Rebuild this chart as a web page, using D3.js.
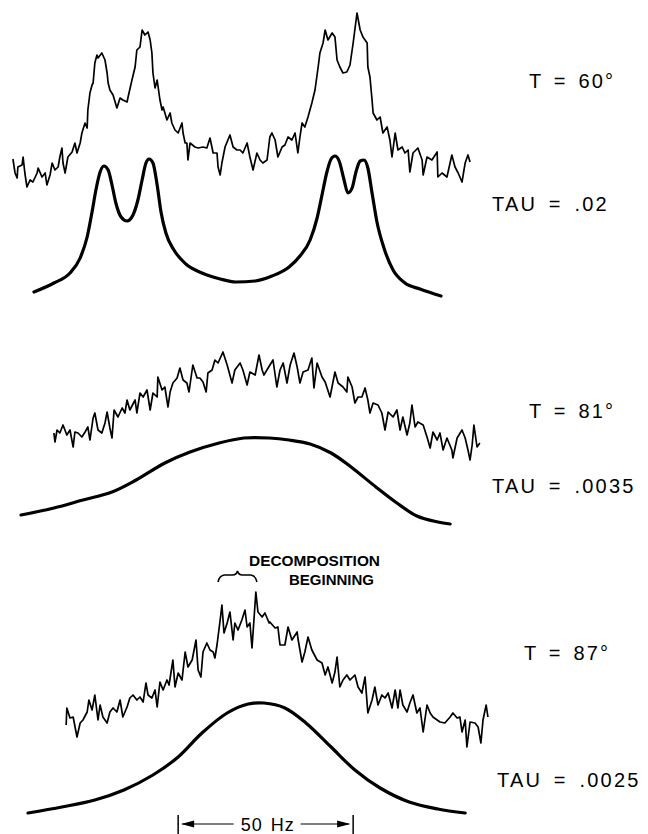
<!DOCTYPE html>
<html>
<head>
<meta charset="utf-8">
<script src="https://cdn.jsdelivr.net/npm/d3@7"></script>
<style>
  body { margin: 0; background: #fff; }
  text { font-family: "Liberation Sans", Arial, sans-serif; fill: #000; white-space: pre; }
</style>
</head>
<body>
<div id="chart"></div>
<script>
// frequency in Hz, intensity in arbitrary units
var obs60 = [[3.7,141],[4.3,127],[4.9,122],[5.1,133],[6.3,135],[6.6,143],[7.1,127],[7.7,113],[8.6,120],[9.4,118],[10.6,127],[10.9,132],[12.0,123],[12.9,127],[13.4,115],[14.3,125],[14.9,137],[15.7,130],[16.6,133],[17.1,143],[17.7,152],[18.0,137],[18.6,127],[19.4,143],[20.6,148],[21.4,157],[22.0,147],[22.9,157],[23.4,167],[24.3,177],[24.9,172],[25.1,190],[25.7,207],[26.3,215],[26.6,217],[27.1,237],[27.7,245],[28.0,242],[29.1,247],[30.0,240],[30.6,227],[30.9,217],[31.4,210],[32.3,205],[33.4,192],[34.3,202],[35.1,200],[36.3,198],[36.6,203],[37.7,220],[38.6,233],[39.1,250],[40.0,253],[40.6,270],[41.4,265],[42.3,268],[42.9,260],[43.4,247],[43.7,227],[44.3,212],[44.9,220],[45.7,200],[46.3,190],[46.6,193],[47.7,180],[48.6,187],[49.1,177],[50.0,170],[50.9,167],[52.0,177],[52.3,167],[52.9,157],[53.4,157],[53.7,140],[54.3,157],[55.7,153],[56.6,152],[58.0,153],[59.1,152],[60.0,162],[60.9,147],[62.0,147],[62.3,133],[62.9,125],[63.4,137],[64.3,153],[65.7,165],[66.6,153],[67.7,150],[68.6,150],[69.4,147],[70.6,157],[71.4,143],[72.3,130],[73.4,147],[74.3,140],[75.1,137],[76.3,140],[77.1,163],[77.7,167],[78.6,160],[79.4,143],[80.6,153],[81.4,155],[82.3,163],[83.4,160],[84.3,167],[85.1,147],[85.7,163],[86.3,177],[87.1,173],[88.0,183],[89.1,197],[90.0,210],[90.9,233],[91.4,247],[92.3,257],[92.9,270],[93.7,260],[94.9,267],[95.7,263],[96.3,240],[97.1,233],[98.0,227],[99.1,228],[100.0,235],[100.9,257],[102.0,287],[102.9,270],[103.7,263],[104.9,257],[105.1,233],[105.7,223],[106.3,200],[106.6,187],[107.7,180],[108.6,183],[109.4,167],[110.6,173],[111.4,160],[112.0,143],[112.9,167],[113.7,150],[114.9,153],[115.7,147],[116.6,150],[117.1,128],[118.0,147],[119.4,152],[120.6,140],[120.9,125],[122.0,143],[123.4,140],[124.9,148],[125.1,123],[126.3,127],[127.7,123],[129.1,145],[130.0,133],[130.9,127],[132.0,118],[132.9,137],[133.7,145],[134.3,138]];

var calc60 = [[9.7,8],[15.4,17],[20.0,27],[22.9,42],[24.9,63],[26.3,88],[27.4,110],[28.6,128],[29.7,134],[30.9,130],[32.0,115],[33.1,97],[34.6,83],[36.3,79],[38.0,85],[39.4,100],[40.6,120],[41.7,137],[42.6,141],[43.7,137],[44.9,115],[46.0,88],[47.4,67],[49.7,50],[53.1,36],[57.7,27],[62.9,21],[67.4,18],[72.9,19],[77.7,24],[82.6,33],[85.7,44],[88.6,60],[90.6,82],[92.0,105],[93.4,128],[94.6,141],[95.7,144],[96.9,139],[98.3,120],[99.4,107],[100.6,112],[101.7,128],[102.9,139],[104.0,140],[105.1,132],[106.3,107],[107.7,78],[109.7,52],[112.3,30],[115.7,17],[120.0,11],[126.0,4]];

var obs81 = [[15.4,107],[15.7,98],[16.3,110],[17.1,107],[18.0,115],[19.1,105],[20.0,110],[20.9,93],[21.4,108],[22.3,107],[23.4,103],[24.3,108],[25.1,113],[25.7,100],[26.6,122],[27.1,127],[28.0,110],[29.1,107],[30.0,117],[30.6,128],[31.4,112],[32.0,102],[32.6,130],[33.7,123],[34.9,132],[35.7,127],[36.3,140],[37.1,130],[38.6,140],[39.1,127],[40.0,147],[40.9,143],[42.0,150],[42.9,130],[43.7,147],[44.9,143],[45.1,163],[46.3,150],[47.1,153],[48.0,133],[48.6,148],[49.4,157],[50.6,162],[51.4,172],[52.3,160],[53.4,157],[54.0,148],[55.1,175],[56.3,162],[57.1,162],[58.0,158],[58.9,148],[59.4,167],[60.6,170],[61.4,180],[62.3,177],[63.7,188],[64.9,175],[66.3,157],[67.1,170],[68.6,177],[69.4,170],[70.6,155],[71.4,168],[72.9,165],[74.0,185],[74.9,170],[75.4,165],[76.6,172],[78.0,180],[79.1,153],[80.0,170],[80.9,177],[82.0,157],[82.9,175],[84.0,187],[84.9,173],[85.7,157],[86.6,168],[88.0,170],[89.1,182],[89.7,152],[90.6,177],[92.0,163],[92.9,158],[94.3,143],[95.7,168],[96.6,157],[98.0,153],[99.1,148],[99.4,163],[100.6,153],[101.4,137],[102.3,143],[103.4,143],[104.3,152],[105.1,140],[105.7,127],[106.6,137],[108.0,135],[109.1,127],[110.0,110],[110.9,128],[112.3,123],[113.4,130],[114.3,110],[115.1,123],[116.3,105],[117.1,117],[117.7,135],[118.6,113],[119.4,118],[120.9,115],[122.0,103],[122.9,92],[123.7,108],[124.9,100],[125.7,107],[126.6,90],[127.7,102],[129.1,90],[129.4,82],[130.6,102],[132.0,110],[132.9,102],[133.7,90],[134.3,80],[134.9,95],[135.4,115],[136.3,93],[137.1,97]];

var calc81 = [[6.0,25],[15.4,32],[23.7,40],[32.0,48],[38.9,60],[47.1,77],[54.3,88],[62.6,97],[69.7,102],[76.9,102],[82.6,100],[88.6,96],[94.6,87],[100.3,73],[107.4,53],[113.4,37],[119.1,24],[125.1,18],[128.6,16]];

var obs87 = [[18.9,109],[19.1,126],[20.0,116],[20.9,117],[22.0,97],[22.9,111],[23.7,114],[24.9,122],[25.4,134],[26.3,124],[27.1,139],[28.0,114],[28.6,129],[29.4,117],[30.6,111],[31.4,122],[32.3,126],[33.4,122],[34.3,134],[35.1,117],[36.3,127],[37.1,136],[38.0,139],[39.1,134],[40.0,137],[40.9,132],[41.7,151],[42.3,139],[43.4,136],[44.3,144],[44.9,127],[45.7,152],[46.6,144],[47.7,154],[48.3,149],[49.4,174],[50.0,147],[50.9,161],[52.0,154],[52.9,182],[53.7,167],[54.9,174],[56.0,194],[56.6,164],[57.4,157],[58.0,182],[59.1,191],[60.0,184],[60.9,182],[61.4,176],[62.0,189],[62.9,214],[63.4,229],[64.0,201],[64.9,211],[65.7,222],[66.6,194],[67.1,211],[68.0,204],[69.1,214],[70.0,224],[70.6,207],[71.4,211],[72.0,186],[73.1,242],[73.7,222],[74.9,217],[75.7,221],[76.9,211],[77.1,212],[78.6,206],[79.4,207],[80.0,189],[81.4,189],[82.3,207],[83.4,194],[84.9,202],[85.1,196],[86.3,172],[87.1,182],[88.0,197],[89.1,184],[90.6,174],[92.0,171],[92.9,159],[93.7,167],[94.9,151],[95.7,162],[96.3,177],[97.1,147],[98.0,154],[99.1,159],[100.0,154],[101.4,159],[102.3,147],[103.4,141],[104.3,157],[105.1,121],[106.3,134],[107.1,147],[108.0,129],[109.1,139],[110.0,136],[110.9,141],[112.0,126],[112.9,144],[113.7,126],[114.3,144],[115.1,129],[116.3,122],[117.1,131],[118.0,139],[119.1,121],[120.0,126],[120.9,102],[122.0,129],[122.9,121],[123.7,117],[124.9,114],[125.7,112],[127.1,111],[128.6,117],[129.4,121],[130.6,116],[131.4,117],[132.0,102],[132.9,114],[133.4,87],[134.3,112],[135.7,111],[136.6,107],[137.4,91],[138.0,114],[138.9,129],[139.4,117]];

var calc87 = [[8.0,21],[17.7,27],[27.1,34],[35.4,44],[43.7,59],[50.9,77],[57.7,101],[64.9,121],[70.9,130],[75.4,131],[81.4,126],[87.4,111],[94.6,87],[101.4,64],[108.6,46],[116.9,32],[125.1,25],[132.9,21]];

var tempLabels = ['T = 60°', 'T = 81°', 'T = 87°'];
var tauLabels = ['TAU = .02', 'TAU = .0035', 'TAU = .0025'];
var decompRange = [62.3, 73.4];       // Hz, bracketed region on the 87° trace
var decompText = ['DECOMPOSITION', 'BEGINNING'];
var hzBar = [50.9, 100.9];            // 50 Hz calibration
var hzLabel = '50 Hz';

var width = 648, height = 834;

var svg = d3.select('#chart')
    .append('svg')
    .attr('width', width)
    .attr('height', height);

var x = d3.scaleLinear().domain([0, 185.14]).range([0, width]);

var panels = [
    { top: 0,   h: 300, obs: obs60, calc: calc60, curve: d3.curveMonotoneX, tY: 88,  tX: 529, tauY: 211, tauX: 492 },
    { top: 300, h: 240, obs: obs81, calc: calc81, curve: d3.curveCatmullRom, tY: 418, tX: 529, tauY: 493, tauX: 492 },
    { top: 540, h: 294, obs: obs87, calc: calc87, curve: d3.curveCatmullRom, tY: 660, tX: 524, tauY: 787, tauX: 497 }
];

var groups = svg.selectAll('g.panel')
    .data(panels)
    .enter()
    .append('g')
    .attr('class', 'panel')
    .attr('transform', function (d) { return 'translate(0,' + d.top + ')'; });

groups.each(function (d) {
    var g = d3.select(this);
    var y = d3.scaleLinear().domain([0, d.h]).range([d.h, 0]);
    d.y = y;

    var obsLine = d3.line()
        .x(function (p) { return x(p[0]); })
        .y(function (p) { return y(p[1]); });

    var calcLine = d3.line()
        .x(function (p) { return x(p[0]); })
        .y(function (p) { return y(p[1]); })
        .curve(d.curve);

    g.append('path')
        .attr('d', obsLine(d.obs))
        .attr('fill', 'none')
        .attr('stroke', '#000')
        .attr('stroke-width', 1.7)
        .attr('stroke-linejoin', 'round');

    g.append('path')
        .attr('d', calcLine(d.calc))
        .attr('fill', 'none')
        .attr('stroke', '#000')
        .attr('stroke-width', 3.2)
        .attr('stroke-linecap', 'round')
        .attr('stroke-linejoin', 'round');
});

// temperature and correlation-time labels on the right
svg.selectAll('text.temp')
    .data(panels)
    .enter()
    .append('text')
    .attr('class', 'temp')
    .attr('x', function (d) { return d.tX; })
    .attr('y', function (d) { return d.tY; })
    .style('font-size', '20px')
    .style('letter-spacing', '2.2px')
    .style('word-spacing', '3px')
    .text(function (d, i) { return tempLabels[i]; });

svg.selectAll('text.tau')
    .data(panels)
    .enter()
    .append('text')
    .attr('class', 'tau')
    .attr('x', function (d) { return d.tauX; })
    .attr('y', function (d) { return d.tauY; })
    .style('font-size', '20px')
    .style('letter-spacing', '2.2px')
    .style('word-spacing', '4px')
    .text(function (d, i) { return tauLabels[i]; });

// decomposition brace over the 87 deg trace
var p3 = panels[2];
var bx0 = x(decompRange[0]), bx1 = x(decompRange[1]), bm = (bx0 + bx1) / 2;
var by = p3.top + p3.y(258);
var brace = d3.path();
brace.moveTo(bx0, by + 6);
brace.quadraticCurveTo(bx0 + 1, by, bx0 + 6, by - 1);
brace.lineTo(bm - 5, by - 1);
brace.quadraticCurveTo(bm - 1, by - 1, bm, by - 5);
brace.quadraticCurveTo(bm + 1, by - 1, bm + 5, by - 1);
brace.lineTo(bx1 - 6, by - 1);
brace.quadraticCurveTo(bx1 - 1, by, bx1, by + 6);
svg.append('path')
    .attr('d', brace.toString())
    .attr('fill', 'none')
    .attr('stroke', '#000')
    .attr('stroke-width', 1.6);

svg.append('text')
    .attr('x', 249).attr('y', 566)
    .attr('textLength', 131).attr('lengthAdjust', 'spacingAndGlyphs')
    .style('font-size', '15px').style('font-weight', 'bold')
    .text(decompText[0]);
svg.append('text')
    .attr('x', 289).attr('y', 585)
    .attr('textLength', 85).attr('lengthAdjust', 'spacingAndGlyphs')
    .style('font-size', '15px').style('font-weight', 'bold')
    .text(decompText[1]);

// 50 Hz calibration bar
var hx0 = x(hzBar[0]), hx1 = x(hzBar[1]), hm = (hx0 + hx1) / 2;
var hy = 824;
var cal = svg.append('g');
cal.selectAll('line.tick')
    .data(hzBar)
    .enter()
    .append('line')
    .attr('x1', function (d) { return x(d); })
    .attr('x2', function (d) { return x(d); })
    .attr('y1', 815).attr('y2', 834)
    .attr('stroke', '#000').attr('stroke-width', 1.5);

cal.append('line')
    .attr('x1', hx0 + 4).attr('x2', hm - 32)
    .attr('y1', hy).attr('y2', hy)
    .attr('stroke', '#000').attr('stroke-width', 1.2);
cal.append('line')
    .attr('x1', hm + 35).attr('x2', hx1 - 4)
    .attr('y1', hy).attr('y2', hy)
    .attr('stroke', '#000').attr('stroke-width', 1.2);

cal.append('path')
    .attr('d', 'M' + (hx0 + 3) + ',' + hy + 'L' + (hx0 + 16) + ',' + (hy - 3.5) + 'L' + (hx0 + 16) + ',' + (hy + 3.5) + 'Z')
    .attr('fill', '#000');
cal.append('path')
    .attr('d', 'M' + (hx1 - 3) + ',' + hy + 'L' + (hx1 - 16) + ',' + (hy - 3.5) + 'L' + (hx1 - 16) + ',' + (hy + 3.5) + 'Z')
    .attr('fill', '#000');

cal.append('text')
    .attr('x', hm + 2).attr('y', 831)
    .attr('text-anchor', 'middle')
    .style('font-size', '18px')
    .style('letter-spacing', '1px')
    .style('word-spacing', '2px')
    .text(hzLabel);
</script>
</body>
</html>
